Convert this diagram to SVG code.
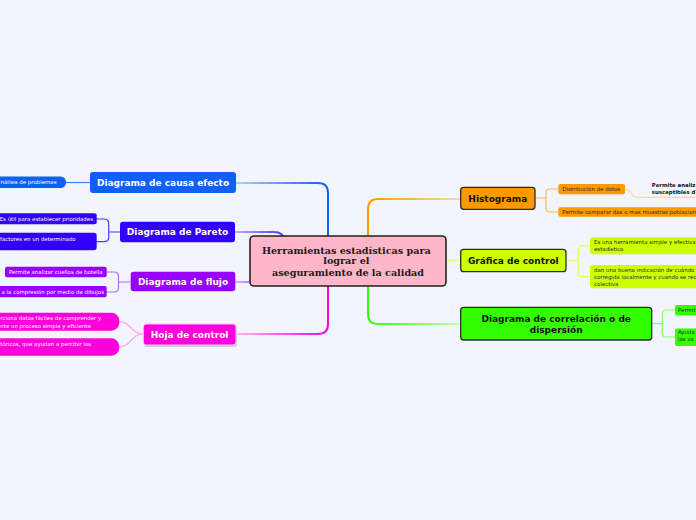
<svg xmlns="http://www.w3.org/2000/svg" width="696" height="520" viewBox="0 0 696 520">
<defs>
<style>
.t{font-family:"DejaVu Sans",Verdana,sans-serif;font-weight:bold;font-size:9px;text-anchor:middle}
.w{fill:#ffffff}
.k{fill:#111111}
.s{font-family:"DejaVu Sans",Verdana,sans-serif;font-size:5.45px}
.sb{font-family:"DejaVu Sans",Verdana,sans-serif;font-size:5.4px;font-weight:bold;fill:#111}
.dk{fill:#2a2a2a}
.main{fill:none;stroke-width:2}
.sub{fill:none;stroke-width:1.2}
.bd{stroke:#2b2b2b;stroke-width:1.3}
</style>
<linearGradient id="gBlue" gradientUnits="userSpaceOnUse" x1="236" y1="0" x2="328" y2="0"><stop offset="0" stop-color="#b5cbff"/><stop offset="1" stop-color="#1160f5"/></linearGradient>
<linearGradient id="gPar" gradientUnits="userSpaceOnUse" x1="235" y1="0" x2="285" y2="0"><stop offset="0" stop-color="#b8adff"/><stop offset="1" stop-color="#5533ff"/></linearGradient>
<linearGradient id="gFlu" gradientUnits="userSpaceOnUse" x1="235" y1="0" x2="255" y2="0"><stop offset="0" stop-color="#d6b3ff"/><stop offset="1" stop-color="#b56bff"/></linearGradient>
<linearGradient id="gHoj" gradientUnits="userSpaceOnUse" x1="236" y1="0" x2="328" y2="0"><stop offset="0" stop-color="#ffb3f2"/><stop offset="1" stop-color="#ff00dd"/></linearGradient>
<linearGradient id="gHis" gradientUnits="userSpaceOnUse" x1="368" y1="0" x2="460" y2="0"><stop offset="0" stop-color="#ff9900"/><stop offset="1" stop-color="#ffd9a3"/></linearGradient>
<linearGradient id="gCor" gradientUnits="userSpaceOnUse" x1="368" y1="0" x2="460" y2="0"><stop offset="0" stop-color="#33ff00"/><stop offset="1" stop-color="#c2ffad"/></linearGradient>
</defs>
<rect width="696" height="520" fill="#f2f5fd"/>

<g id="connectors">
<path class="main" stroke="url(#gBlue)" d="M236,183 H318 Q328,183 328,193 V240"/>
<path class="main" stroke="url(#gPar)" d="M235,232 H274 Q283,232 285,240"/>
<path class="main" stroke="url(#gFlu)" d="M235,282 H256"/>
<path class="main" stroke="url(#gHoj)" d="M236,334 H318 Q328,334 328,324 V282"/>
<path class="main" stroke="url(#gHis)" d="M460,199 H378 Q368,199 368,209 V240"/>
<path class="main" stroke="#e8ff8a" d="M440,260.5 H461"/>
<path class="main" stroke="url(#gCor)" d="M460,324 H378 Q368,324 368,314 V282"/>

<path class="sub" stroke="#3d7df7" d="M90,182.5 H66"/>
<path class="sub" stroke="#5533ff" d="M120,232 H108.7 M96,219 H104 Q108.7,219 108.7,223.5 V237.5 Q108.7,241.7 104,241.7 H96"/>
<path class="sub" stroke="#b366ff" d="M130.7,282 H118.5 M106.7,272 H114 Q118.5,272 118.5,276.5 V287.5 Q118.5,292 114,292 H106.7"/>
<path class="sub" stroke="#ffa3ee" d="M143,334 C131,334 131,321.7 119,321.7 M143,334 C131,334 131,347 119,347"/>
<path class="sub" stroke="#ffb84d" d="M535,198 H546 M558.3,189 H550 Q546,189 546,193 V208 Q546,212 550,212 H558.3"/>
<path class="sub" stroke="#ffd699" d="M625,189 C632,189 631,197.3 638,197.3 H696"/>
<path class="sub" stroke="#e0ff66" d="M566,260.5 H578.3 M590,245.8 H582.3 Q578.3,245.8 578.3,249.8 V272.7 Q578.3,276.7 582.3,276.7 H590"/>
<path class="sub" stroke="#88ff66" d="M651.7,323.7 H662.3 M675,310 H666.3 Q662.3,310 662.3,314 V333 Q662.3,337 666.3,337 H675"/>
</g>

<g id="center">
<rect x="250" y="236" width="196" height="50" rx="4" fill="#ffb6c8" stroke="#222" stroke-width="1.6"/>
<text font-family="'DejaVu Serif','Liberation Serif',serif" font-weight="bold" font-size="9.6" text-anchor="middle" fill="#1a1a1a">
<tspan x="348" y="254.2">Herramientas estadísticas para</tspan>
<tspan x="348" y="264.4">lograr el</tspan>
<tspan x="348" y="275.8">aseguramiento de la calidad</tspan>
</text>
</g>

<g id="causa">
<rect x="90" y="172" width="146" height="21" rx="3" fill="#1160f5"/>
<text class="t w" x="163" y="185.8">Diagrama de causa efecto</text>
</g>
<g id="causa-1">
<rect x="-10" y="176.5" width="76" height="11.5" rx="5.5" fill="#1160f5"/>
<text class="s w" x="56.5" y="184.2" text-anchor="end">nálisis de problemas</text>
</g>

<g id="pareto">
<rect x="120" y="221.7" width="115" height="20.5" rx="3" fill="#3300ff"/>
<text class="t w" x="177.5" y="235.2">Diagrama de Pareto</text>
</g>
<g id="pareto-1">
<rect x="-10" y="213.3" width="106.7" height="11" rx="2" fill="#3300ff"/>
<text class="s w" x="93" y="220.8" text-anchor="end">Es útil para establecer prioridades</text>
</g>
<g id="pareto-2">
<rect x="-10" y="232.7" width="106.7" height="17.5" rx="3" fill="#3300ff"/>
<text class="s w" x="75.7" y="240.8" text-anchor="end">factores en un determinado</text>
</g>

<g id="flujo">
<rect x="130.7" y="271.7" width="104.6" height="19.6" rx="3" fill="#9900ff"/>
<text class="t w" x="183" y="284.8">Diagrama de flujo</text>
</g>
<g id="flujo-1">
<rect x="5" y="266.7" width="101.7" height="10.6" rx="2" fill="#9900ff"/>
<text class="s w" x="55.8" y="273.9" text-anchor="middle">Permite analizar cuellos de botella</text>
</g>
<g id="flujo-2">
<rect x="-10" y="286" width="116.7" height="11.3" rx="2" fill="#9900ff"/>
<text class="s w" x="104" y="293.6" text-anchor="end">a la compresión por medio de dibujos</text>
</g>

<g id="hoja">
<rect x="144.3" y="326" width="92.7" height="21" rx="3" fill="#bbbbbb" opacity="0.7"/>
<rect x="143.3" y="324" width="92.7" height="21" rx="3" fill="#ff00dd" stroke="#ffc2f5" stroke-width="1"/>
<text class="t w" x="189.6" y="337.7">Hoja de control</text>
</g>
<g id="hoja-1">
<rect x="-20" y="312.7" width="139.3" height="18" rx="8" fill="#ff00dd"/>
<text class="s w"><tspan x="0.3" y="320.2">rciona datos fáciles de comprender y</tspan><tspan x="0.3" y="327.6">nte un proceso simple y eficiente</tspan></text>
</g>
<g id="hoja-2">
<rect x="-20" y="338.3" width="139.3" height="17.4" rx="8" fill="#ff00dd"/>
<text class="s w" x="0.3" y="346.2">tóricos, que ayudan a percibir los</text>
</g>

<g id="histograma">
<rect x="460.7" y="187.3" width="74.3" height="22" rx="3" fill="#ff9900" class="bd"/>
<text class="t k" x="497.8" y="201.5">Histograma</text>
</g>
<g id="histograma-1">
<rect x="558.3" y="184" width="66.7" height="10.3" rx="2" fill="#ff9900"/>
<text class="s dk" x="562.3" y="191.1">Distribución de datos</text>
</g>
<g id="histograma-1-1">
<text class="sb"><tspan x="651.7" y="187.3">Permite analiz</tspan><tspan x="651.7" y="193.7">susceptibles d</tspan></text>
</g>
<g id="histograma-2">
<rect x="558.3" y="207.3" width="150" height="9.4" rx="2" fill="#ff9900"/>
<text class="s dk" x="562.3" y="214">Permite comparar dos o mas muestras poblacion</text>
</g>

<g id="grafica">
<rect x="460.7" y="249.3" width="105.3" height="22.4" rx="3" fill="#ccff00" class="bd"/>
<text class="t k" x="513.3" y="263.6">Gráfica de control</text>
</g>
<g id="grafica-1">
<rect x="590" y="237.3" width="120" height="17" rx="3" fill="#ccff00"/>
<text class="s dk"><tspan x="594" y="243.6">Es una herramienta simple y efectiva</tspan><tspan x="594" y="251">estadístico</tspan></text>
</g>
<g id="grafica-2">
<rect x="590" y="265" width="120" height="23.3" rx="3" fill="#ccff00"/>
<text class="s dk"><tspan x="594" y="271.6">dan una buena indicación de cuándo</tspan><tspan x="594" y="278.6">corregida localmente y cuando se rec</tspan><tspan x="594" y="285.6">colectiva</tspan></text>
</g>

<g id="correlacion">
<rect x="460.7" y="307.3" width="191" height="32.7" rx="3" fill="#33ff00" class="bd"/>
<text class="t k"><tspan x="556.2" y="322">Diagrama de correlación o de</tspan><tspan x="556.2" y="332.8">dispersión</tspan></text>
</g>
<g id="correlacion-1">
<rect x="675" y="305" width="30" height="10.6" rx="2" fill="#33ff00"/>
<text class="s dk" x="678" y="312.2">Permit</text>
</g>
<g id="correlacion-2">
<rect x="675" y="328.5" width="30" height="17.5" rx="2" fill="#33ff00"/>
<text class="s dk"><tspan x="678" y="334.3">Ayuda</tspan><tspan x="678" y="340.8">las va</tspan></text>
</g>
</svg>
